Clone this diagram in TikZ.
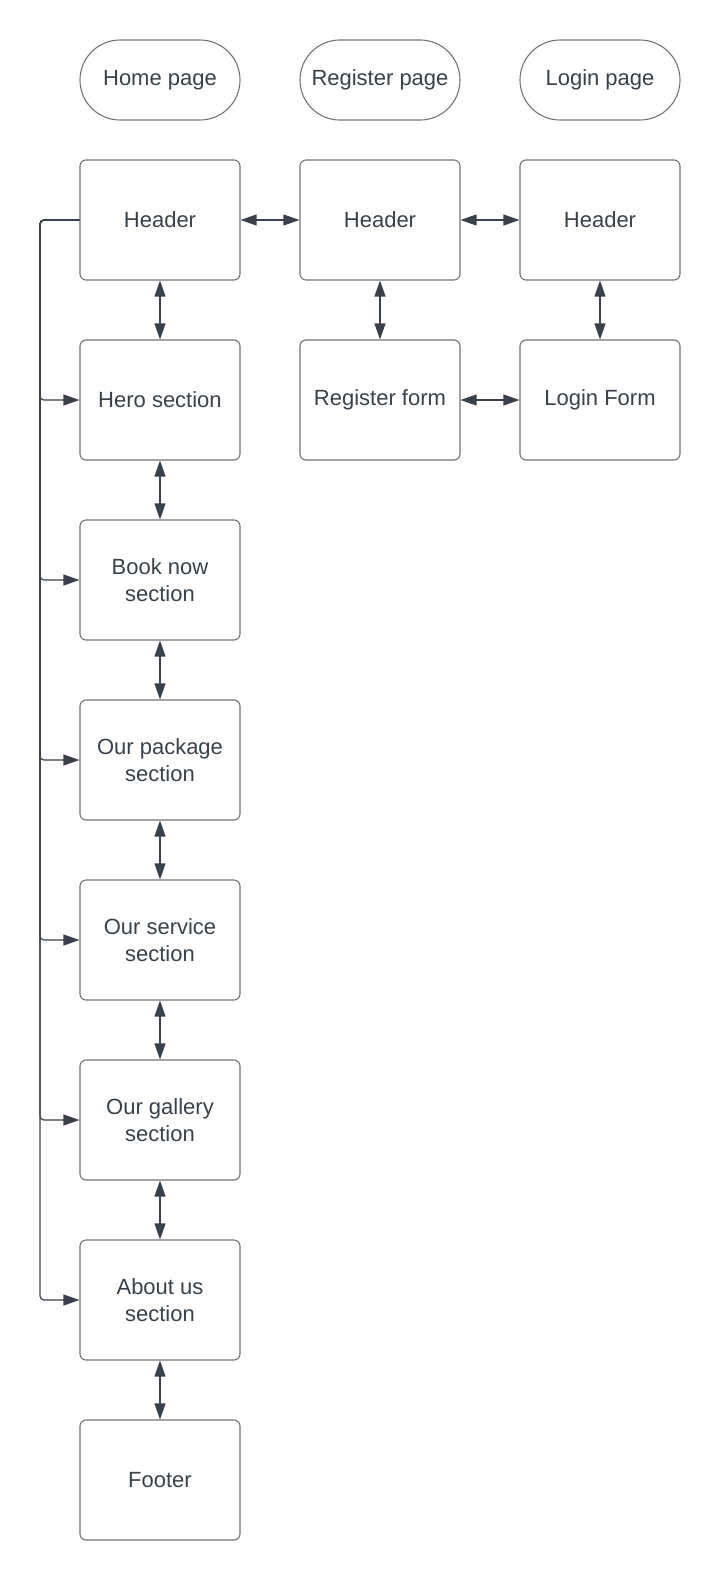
\documentclass[tikz,border=0pt]{standalone}
\usepackage{fontspec}
\setmainfont{Liberation Sans}
\usepackage{tikz}
\usetikzlibrary{arrows.meta, positioning}
\definecolor{ink}{HTML}{3A414A}
\definecolor{edge}{HTML}{707479}

\begin{document}
\begin{tikzpicture}[
    x=1pt, y=-1pt,
    box/.style={
        draw=edge, line width=1.1pt,
        rounded corners=6pt,
        minimum width=160pt,
        minimum height=120pt,
        inner sep=0pt,
        align=center, text=ink,
        font=\fontsize{22}{26.5}\selectfont
    },
    term/.style={box, minimum height=80pt, rounded corners=39.9pt},
    link/.style={draw=ink, line width=1.2pt, {Triangle[length=16pt, width=11pt]}-{Triangle[length=16pt, width=11pt]}},
    branch/.style={draw=ink, line width=1.2pt, rounded corners=4pt, -{Triangle[length=16pt, width=11pt]}}
]
\useasboundingbox (0,0) rectangle (721,1580);

% Page titles
\node[term] (homeT) at (160, 80) {Home page};
\node[term] (regT)  at (380, 80) {Register page};
\node[term] (logT)  at (600, 80) {Login page};

% ------- Home page (x=160) -------
\node[box] (homeHdr) at (160, 220)  {Header};
\node[box] (hero)    at (160, 400)  {Hero section};
\node[box] (book)    at (160, 580)  {Book now\\section};
\node[box] (pkg)     at (160, 760)  {Our package\\section};
\node[box] (service) at (160, 940)  {Our service\\section};
\node[box] (gallery) at (160, 1120) {Our gallery\\section};
\node[box] (about)   at (160, 1300) {About us\\section};
\node[box] (footer)  at (160, 1480) {Footer};

% ------- Register page (x=380) -------
\node[box] (regHdr)  at (380, 220) {Header};
\node[box] (regForm) at (380, 400) {Register form};

% ------- Login page (x=600) -------
\node[box] (logHdr)  at (600, 220) {Header};
\node[box] (logForm) at (600, 400) {Login Form};

% Two-way links
\draw[link] (homeHdr) -- (hero);
\draw[link] (hero) -- (book);
\draw[link] (book) -- (pkg);
\draw[link] (pkg) -- (service);
\draw[link] (service) -- (gallery);
\draw[link] (gallery) -- (about);
\draw[link] (about) -- (footer);
\draw[link] (homeHdr) -- (regHdr);
\draw[link] (regHdr) -- (logHdr);
\draw[link] (regHdr) -- (regForm);
\draw[link] (logHdr) -- (logForm);
\draw[link] (regForm) -- (logForm);

% Header menu links to each section
\coordinate (bus) at (40, 220);
\foreach \s in {hero, book, pkg, service, gallery, about}
    \draw[branch] (homeHdr.west) -- (bus) |- (\s.west);
\end{tikzpicture}
\end{document}
